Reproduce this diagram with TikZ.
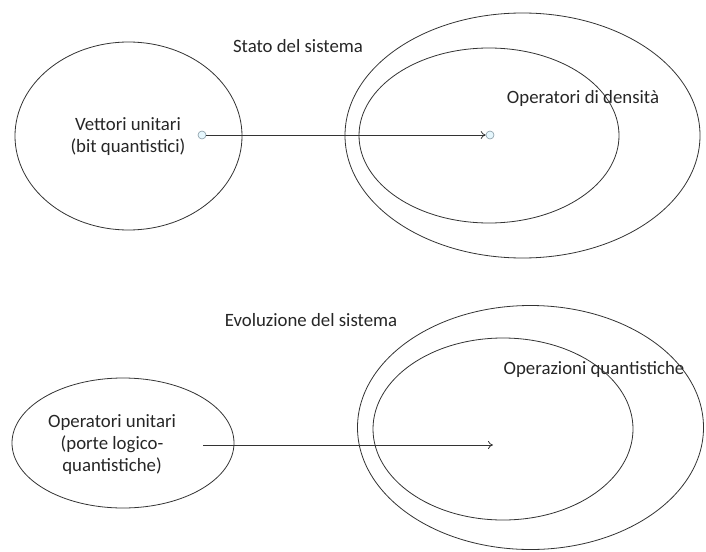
\documentclass[tikz,border=0pt]{standalone}
\usepackage{fontspec}
\setmainfont{Carlito}
\usetikzlibrary{shapes.geometric,arrows.meta}

\begin{document}
\begin{tikzpicture}[x=1pt, y=-1pt,
                    setell/.style={ellipse, draw = black!80, line width = 0.8pt, inner sep = 0pt},
                    lbl/.style={align = center, font = \fontsize{18.8}{22}\selectfont, text = black!85},
                    dot/.style={circle, draw = gray!80!cyan, fill = cyan!10, line width = 0.6pt, minimum size = 8pt, inner sep = 0pt},
                    maparr/.style={-{To[length = 5pt, width = 8pt]}, line width = 0.8pt, draw = black!80}]

                    \useasboundingbox (0,0) rectangle (706,551);
                    \clip (0,0) rectangle (706,551);

                    % stato
                    \node[setell, minimum width = 227pt, minimum height = 188pt] (vett) at (128.5,136) {};
                    \node[setell, minimum width = 355pt, minimum height = 245pt] (statoout) at (522.5,135.5) {};
                    \node[setell, minimum width = 260pt, minimum height = 175pt] (densell) at (489,135.5) {};
                    \node[lbl] (stato) at (298,46) {Stato del sistema};
                    \node[lbl] (vettlbl) at (128,137) {Vettori unitari\\(bit quantistici)};
                    \node[lbl] (dens) at (583,98) {Operatori di densità};
                    \node[dot] (vdot) at (202,135) {};
                    \node[dot] (ddot) at (490,135) {};
                    \draw[maparr] (vdot) -- (ddot);

                    % evoluzione
                    \node[setell, minimum width = 222pt, minimum height = 130pt] (unit) at (123,443) {};
                    \node[setell, minimum width = 346pt, minimum height = 244pt] (evolout) at (530.5,427.5) {};
                    \node[setell, minimum width = 260pt, minimum height = 182pt] (opqell) at (503,429) {};
                    \node[lbl] (evol) at (311,320) {Evoluzione del sistema};
                    \node[lbl] (unitlbl) at (112,445) {Operatori unitari\\(porte logico-\\quantistiche)};
                    \node[lbl] (opq) at (594,369) {Operazioni quantistiche};
                    \coordinate (ustart) at (203,445);
                    \coordinate (uend) at (493,445);
                    \draw[maparr] (ustart) -- (uend);
\end{tikzpicture}
\end{document}
